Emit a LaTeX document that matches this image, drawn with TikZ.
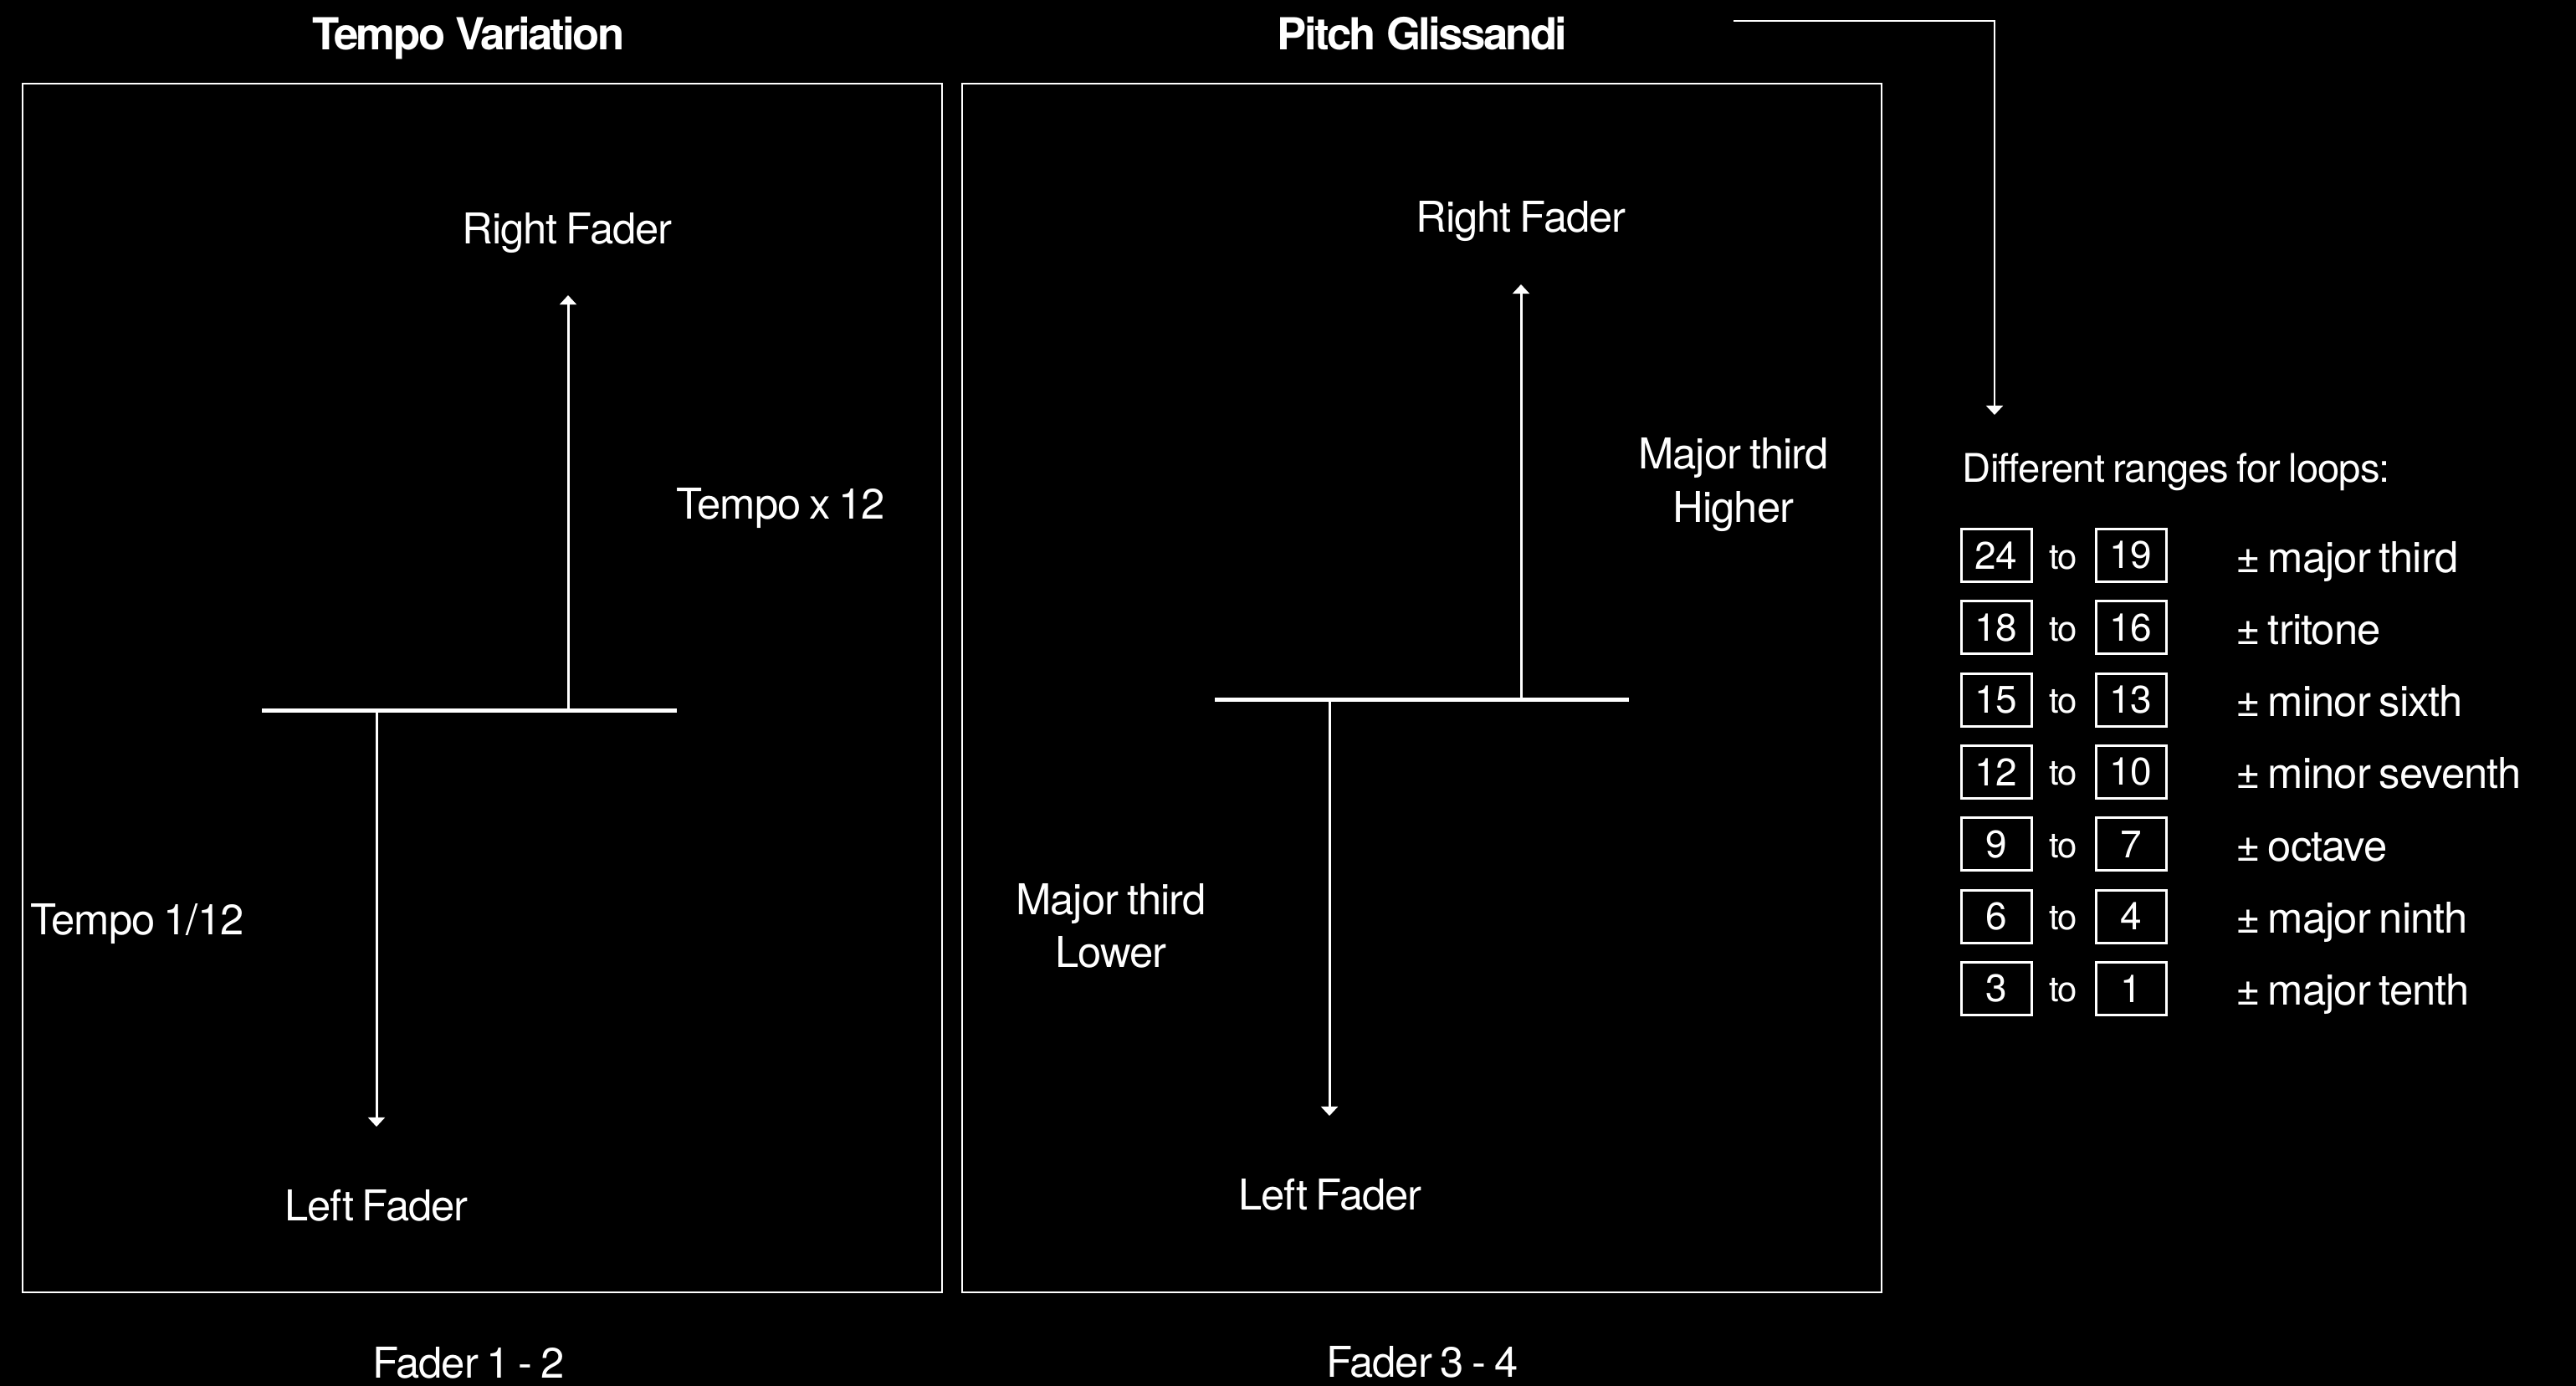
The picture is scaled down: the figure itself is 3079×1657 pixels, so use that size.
\documentclass[tikz,border=0pt]{standalone}
\usepackage{fontspec}
\setmainfont{TeX Gyre Heros}[LetterSpace=-2, WordSpace=0.75]
\newfontfamily\titlefont{TeX Gyre Heros}[LetterSpace=-5]
\usetikzlibrary{arrows.meta}
\tikzset{
  lbl/.style={text=white, inner sep=0pt, anchor=base, font=\fontsize{12.7}{15}\selectfont},
  ttl/.style={lbl, font=\titlefont\fontsize{13.2}{15}\selectfont\bfseries},
  head/.style={lbl, anchor=base west, font=\fontsize{11.8}{15}\selectfont},
  rng/.style={lbl, anchor=base west, font=\fontsize{12.7}{15}\selectfont},
  numbox/.style={draw=white, line width=0.75pt, minimum width=21pt, minimum height=15.75pt,
    inner sep=0pt, text=white, font=\fontsize{11.5}{13}\selectfont},
  tolbl/.style={lbl, font=\fontsize{10.5}{12}\selectfont},
  frame/.style={draw=white, line width=0.6pt},
  bar/.style={draw=white, line width=1.25pt},
  fadearrow/.style={draw=white, line width=0.75pt, -{Triangle[length=2.8pt,width=5pt]}},
}
\begin{document}
\begin{tikzpicture}[x=0.25pt, y=-0.25pt]
\fill[black] (0,0) rectangle (3079,1657);
\useasboundingbox (0,0) rectangle (3079,1657);

% titles
\node[ttl] (t1) at (560,60) {Tempo Variation};
\node[ttl] (t2) at (1700,60) {Pitch Glissandi};

% frames
\draw[frame] (27,100) rectangle (1126,1545);
\draw[frame] (1150,100) rectangle (2249,1545);

% ---- left panel
\coordinate (LbarW) at (313,849);
\coordinate (LbarE) at (809,849);
\coordinate (LupS) at (679,849);
\coordinate (LupT) at (679,353);
\coordinate (LdnS) at (450,849);
\coordinate (LdnT) at (450,1347);
\draw[bar] (LbarW) -- (LbarE);
\draw[fadearrow] (LupS) -- (LupT);
\draw[fadearrow] (LdnS) -- (LdnT);
\node[lbl] (lrf) at (678,292) {Right Fader};
\node[lbl] (ltx) at (933,620) {Tempo x 12};
\node[lbl] (ltd) at (164,1117) {Tempo 1/12};
\node[lbl] (llf) at (450,1459) {Left Fader};
\node[lbl] (f12) at (560,1647) {Fader 1 - 2};

% ---- right panel
\coordinate (RbarW) at (1452,836);
\coordinate (RbarE) at (1947,836);
\coordinate (RupS) at (1818,836);
\coordinate (RupT) at (1818,340);
\coordinate (RdnS) at (1589,836);
\coordinate (RdnT) at (1589,1334);
\draw[bar] (RbarW) -- (RbarE);
\draw[fadearrow] (RupS) -- (RupT);
\draw[fadearrow] (RdnS) -- (RdnT);
\node[lbl] (rrf) at (1818,278) {Right Fader};
\node[lbl] (mh1) at (2072,560) {Major third};
\node[lbl] (mh2) at (2072,624) {Higher};
\node[lbl] (ml1) at (1328,1093) {Major third};
\node[lbl] (ml2) at (1328,1156) {Lower};
\node[lbl] (rlf) at (1590,1446) {Left Fader};
\node[lbl] (f34) at (1700,1646) {Fader 3 - 4};

% ---- ranges
\coordinate (cA) at (2072,25);
\coordinate (cB) at (2384,25);
\coordinate (cC) at (2384,496);
\draw[fadearrow, line width=0.7pt] (cA) -- (cB) -- (cC);
\node[head] (hd) at (2345,576) {Different ranges for loops:};

\foreach \i/\a/\b/\t in {0/24/19/major third, 1/18/16/tritone, 2/15/13/minor sixth,
  3/12/10/minor seventh, 4/9/7/octave, 5/6/4/major ninth, 6/3/1/major tenth}{
  \pgfmathsetmacro{\yy}{664+86.3*\i}
  \node[numbox] (a\i) at (2386,\yy) {\a};
  \node[numbox] (b\i) at (2547,\yy) {\b};
  \node[tolbl] (to\i) at (2466,\yy+16) {to};
  \node[rng] (r\i) at (2672,\yy+20) {±\,\t};
}
\end{tikzpicture}
\end{document}
